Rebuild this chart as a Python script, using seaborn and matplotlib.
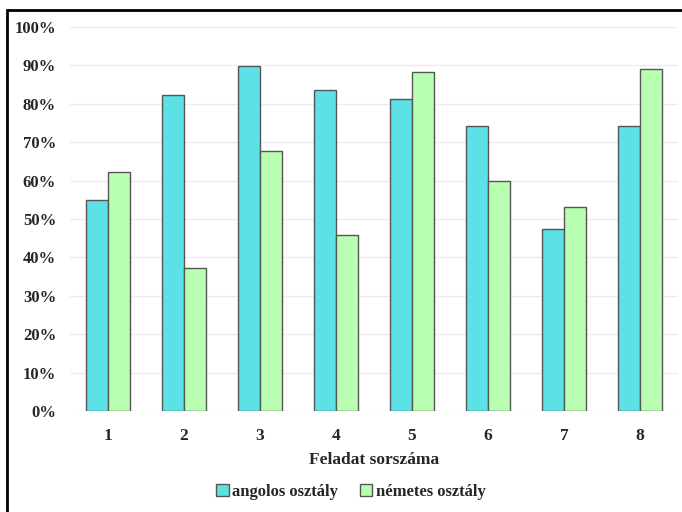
import pandas as pd
import seaborn as sns
import matplotlib.pyplot as plt
from matplotlib.patches import Rectangle
from matplotlib.ticker import PercentFormatter

# data
tasks = ["1", "2", "3", "4", "5", "6", "7", "8"]
angol = [55.0, 82.3, 89.8, 83.5, 81.3, 74.2, 47.4, 74.2]
nemet = [62.3, 37.2, 67.6, 45.8, 88.3, 59.9, 53.1, 89.0]
groups = ["angolos osztály", "németes osztály"]
colors = ["#5ce1e6", "#b9ffb1"]

df = pd.DataFrame({
    "task": tasks * 2,
    "value": angol + nemet,
    "group": [groups[0]] * len(tasks) + [groups[1]] * len(tasks),
})

sns.set_style("white")
plt.rcParams["font.family"] = ["Liberation Serif", "DejaVu Serif"]
plt.rcParams["font.weight"] = "bold"

fs = 12
fig = plt.figure(figsize=(6.82, 5.12), dpi=100)
ax = fig.add_axes([70 / 682, 1 - 411 / 512, 608 / 682, 384 / 512])

sns.barplot(data=df, x="task", y="value", hue="group", order=tasks,
            hue_order=groups, palette=colors, width=0.58, gap=0,
            edgecolor="#555555", linewidth=1, saturation=1, ax=ax)

ax.set_ylim(0, 100)
ax.set_yticks(range(0, 101, 10))
ax.yaxis.set_major_formatter(PercentFormatter(decimals=0))
ax.grid(axis="y", color="#ececf0", linewidth=1)
ax.set_axisbelow(True)
for s in ax.spines.values():
    s.set_visible(False)
ax.tick_params(axis="y", length=0, labelsize=fs, pad=10)
ax.tick_params(axis="x", length=0, labelsize=12.5, pad=12)
for lab in ax.get_xticklabels() + ax.get_yticklabels():
    lab.set_fontweight("bold")
ax.set_xlabel("Feladat sorszáma", fontsize=12.5, fontweight="bold", labelpad=6)
ax.set_ylabel("")

ax.legend(loc="center", bbox_to_anchor=(351 / 682, 1 - 492 / 512),
          bbox_transform=fig.transFigure, ncol=2, frameon=False,
          handlelength=0.75, handleheight=0.75, handletextpad=0.2,
          columnspacing=1.3, prop={"weight": "bold", "size": fs})

# frame around the chart (left and top edge visible)
fig.patches.append(Rectangle((7 / 682, -0.1), 1.2, 1 - 10 / 512 + 0.1,
                             transform=fig.transFigure, fill=False,
                             edgecolor="black", linewidth=2, clip_on=False))

fig.savefig("out.png", dpi=100)
